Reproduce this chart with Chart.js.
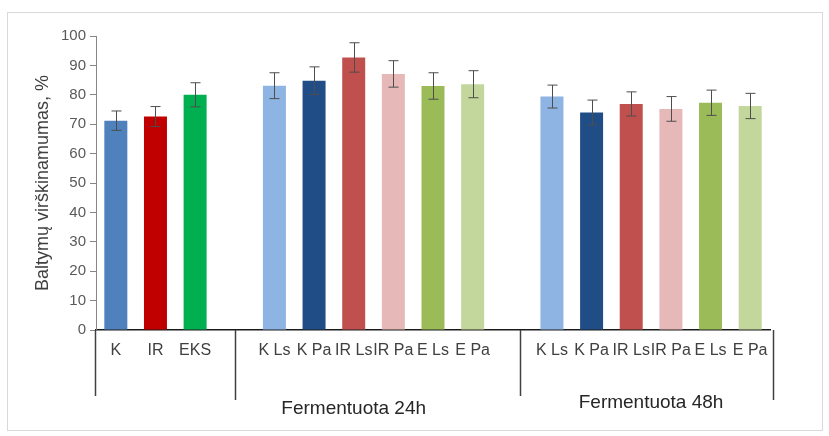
<!DOCTYPE html>
<html>
<head>
<meta charset="utf-8">
<style>
  html, body { margin: 0; padding: 0; background: #fff; }
  #wrap { width: 829px; height: 436px; }
</style>
<script src="https://cdn.jsdelivr.net/npm/chart.js@4/dist/chart.umd.min.js"></script>
</head>
<body>
<div id="wrap"><canvas id="chart"></canvas></div>
<script>
// Data
const controlLabels = ['K', 'IR', 'EKS'];
const fermentLabels = ['K Ls', 'K Pa', 'IR Ls', 'IR Pa', 'E Ls', 'E Pa'];
const groupTitles = ['Fermentuota 24h', 'Fermentuota 48h'];

const controlValues = [71.2, 72.6, 80.0];
const values24h = [83.1, 84.8, 92.7, 87.1, 83.0, 83.6];
const values48h = [79.4, 74.0, 76.9, 75.2, 77.3, 76.2];

const controlErrors = [3.3, 3.4, 4.1];
const errors24h = [4.4, 4.7, 5.0, 4.5, 4.5, 4.6];
const errors48h = [3.9, 4.2, 4.1, 4.2, 4.3, 4.3];

const yTicks = [0, 10, 20, 30, 40, 50, 60, 70, 80, 90, 100];

const controlColors = ['#4F81BD', '#C00000', '#00B050'];
const fermentColors = ['#8DB4E2', '#204D86', '#C0504D', '#E6B9B8', '#9BBB59', '#C3D69B'];

// Build one category row with an empty slot between the groups
const labels = [...controlLabels, '', ...fermentLabels, '', ...fermentLabels];
const values = [...controlValues, null, ...values24h, null, ...values48h];
const errors = [...controlErrors, null, ...errors24h, null, ...errors48h];
const colors = [...controlColors, 'rgba(0,0,0,0)', ...fermentColors, 'rgba(0,0,0,0)', ...fermentColors];

const FONT = "'Liberation Sans', Arial, sans-serif";

// Light frame round the whole picture
const framePlugin = {
    id: 'frame',
    beforeDraw(chart) {
        const ctx = chart.ctx;
        ctx.save();
        ctx.fillStyle = '#fff';
        ctx.fillRect(0, 0, chart.width, chart.height);
        ctx.strokeStyle = '#d9d9d9';
        ctx.lineWidth = 1;
        ctx.strokeRect(7.5, 12.5, 815, 418);
        ctx.restore();
    }
};

// Symmetric error bars with caps
const errorBarPlugin = {
    id: 'errorBars',
    afterDatasetsDraw(chart) {
        const ctx = chart.ctx;
        const y = chart.scales.y;
        const meta = chart.getDatasetMeta(0);
        ctx.save();
        ctx.strokeStyle = '#4d4d4d';
        ctx.lineWidth = 1;
        meta.data.forEach((bar, i) => {
            if (values[i] == null) return;
            const x = Math.round(bar.x) + 0.5;
            const top = y.getPixelForValue(values[i] + errors[i]);
            const bottom = y.getPixelForValue(values[i] - errors[i]);
            ctx.beginPath();
            ctx.moveTo(x, top);
            ctx.lineTo(x, bottom);
            ctx.moveTo(x - 5, top);
            ctx.lineTo(x + 5, top);
            ctx.moveTo(x - 5, bottom);
            ctx.lineTo(x + 5, bottom);
            ctx.stroke();
        });
        ctx.restore();
    }
};

// Group brackets and group titles under the category labels
const groupPlugin = {
    id: 'groups',
    afterDraw(chart) {
        const ctx = chart.ctx;
        const x = chart.scales.x;
        const base = chart.chartArea.bottom;
        const edges = [
            chart.chartArea.left - 1,
            x.getPixelForValue(3),
            x.getPixelForValue(10.2),
            chart.chartArea.right + 3
        ];
        ctx.save();
        ctx.strokeStyle = '#404040';
        ctx.lineWidth = 1.5;
        edges.forEach((px, i) => {
            ctx.beginPath();
            ctx.moveTo(Math.round(px) + 0.5, base);
            ctx.lineTo(Math.round(px) + 0.5, base + (i % 2 ? 70 : 66));
            ctx.stroke();
        });

        ctx.fillStyle = '#262626';
        ctx.font = '19px ' + FONT;
        ctx.textAlign = 'center';
        ctx.textBaseline = 'middle';
        ctx.fillText(groupTitles[0], x.getPixelForValue(6), base + 79);
        ctx.fillText(groupTitles[1], x.getPixelForValue(13.5), base + 73);
        ctx.restore();
    }
};

new Chart(document.getElementById('chart'), {
    type: 'bar',
    data: {
        labels: labels,
        datasets: [{
            data: values,
            backgroundColor: colors,
            borderWidth: 0,
            categoryPercentage: 1,
            barPercentage: 0.58
        }]
    },
    options: {
        responsive: true,
        maintainAspectRatio: false,
        animation: false,
        layout: {
            padding: { left: 0, top: 36, right: 59, bottom: 0 }
        },
        plugins: {
            legend: { display: false },
            tooltip: { enabled: false }
        },
        scales: {
            x: {
                grid: { display: false, drawTicks: false },
                border: { display: true, color: '#1a1a1a', width: 1.5 },
                ticks: {
                    color: '#404040',
                    font: { family: FONT, size: 16 },
                    padding: 11,
                    maxRotation: 0,
                    autoSkip: false
                },
                afterFit(scale) {
                    scale.height = 106;
                }
            },
            y: {
                min: 0,
                max: 100,
                afterBuildTicks(scale) {
                    scale.ticks = yTicks.map(v => ({ value: v }));
                },
                grid: {
                    drawOnChartArea: false,
                    drawTicks: true,
                    tickLength: 6,
                    color: '#868686'
                },
                border: { display: true, color: '#868686', width: 1 },
                ticks: {
                    color: '#595959',
                    font: { family: FONT, size: 15 },
                    padding: 4
                },
                title: {
                    display: true,
                    text: 'Baltymų virškinamumas, %',
                    color: '#404040',
                    font: { family: FONT, size: 18 },
                    padding: { top: 32, bottom: 0 }
                },
                afterFit(scale) {
                    scale.width = 96;
                }
            }
        }
    },
    plugins: [framePlugin, errorBarPlugin, groupPlugin]
});
</script>
</body>
</html>
